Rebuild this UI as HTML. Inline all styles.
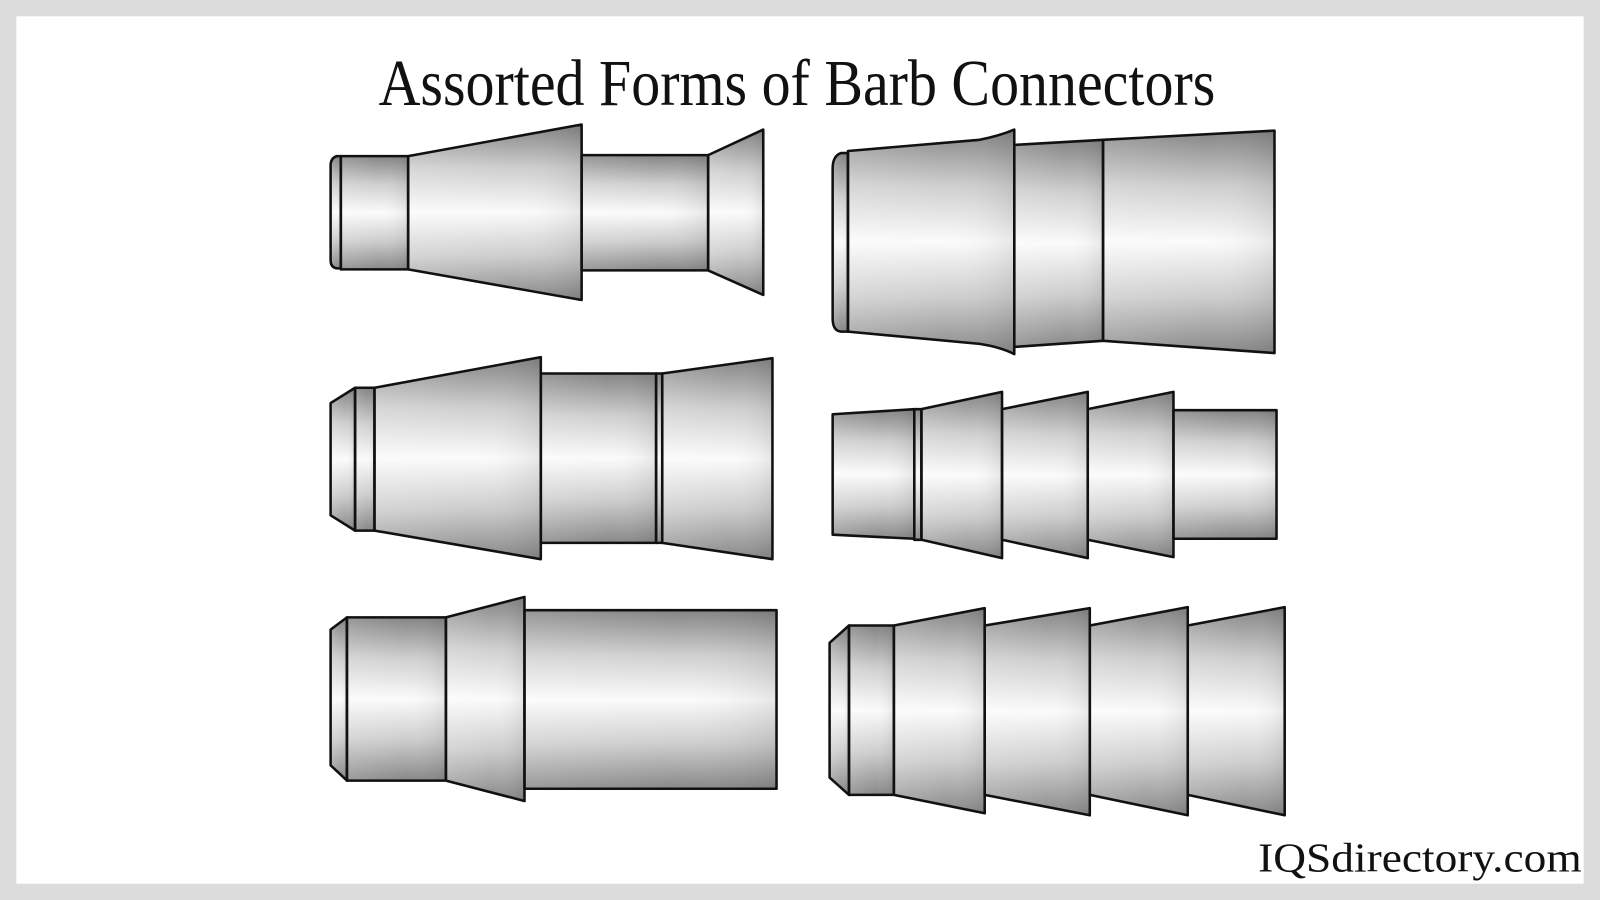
<!DOCTYPE html>
<html><head><style>html,body{margin:0;padding:0;background:#dcdcdc}svg{display:block}</style></head>
<body>
<svg width="1600" height="900" viewBox="0 0 1568 882" xmlns="http://www.w3.org/2000/svg">
<defs>
<linearGradient id="g" x1="0" y1="0" x2="0" y2="1">
<stop offset="0" stop-color="#848484"/><stop offset="0.25" stop-color="#cfcfcf"/><stop offset="0.5" stop-color="#fbfbfb"/><stop offset="0.75" stop-color="#cdcdcd"/><stop offset="1" stop-color="#888888"/>
</linearGradient>
<linearGradient id="h" x1="0" y1="0" x2="1" y2="0">
<stop offset="0" stop-color="#fff" stop-opacity="0.15"/><stop offset="0.6" stop-color="#fff" stop-opacity="0"/><stop offset="1" stop-color="#000" stop-opacity="0.08"/>
</linearGradient>
<g id="shapes">
<path d="M334,153 L330,153 Q324,155 324,162 L324,255 Q324,262 330,263 L334,263 Z"/>
<rect x="334" y="153" width="66" height="111"/>
<polygon points="400,153 570,122 570,294 400,264"/>
<rect x="570" y="152" width="124" height="113"/>
<polygon points="694,152 748,127 748,289 694,265"/>
<path d="M831,150 L824,150 Q816,153 816,165 L816,312 Q816,324 824,325 L831,325 Z"/>
<path d="M831,148 L960,137 Q980,133 994,127 L994,347 Q980,340 960,337 L831,325 Z"/>
<polygon points="994,142 1081,137 1081,334 994,340"/>
<polygon points="1081,137 1249,128 1249,346 1081,334"/>
<polygon points="324,395 348,380 348,520 324,505"/>
<rect x="348" y="380" width="19" height="140"/>
<polygon points="367,380 530,350 530,548 367,520"/>
<rect x="530" y="366" width="113" height="166"/>
<rect x="643" y="366" width="6" height="166"/>
<polygon points="649,366 757,351 757,548 649,532"/>
<polygon points="816,406 896,401 896,528 816,524"/>
<rect x="896" y="401" width="7" height="128"/>
<polygon points="903,401 982,384 982,547 903,529"/>
<polygon points="982,401 1066,384 1066,547 982,529"/>
<polygon points="1066,401 1150,384 1150,546 1066,529"/>
<rect x="1150" y="402" width="101" height="126"/>
<polygon points="324,617 340,605 340,765 324,750"/>
<rect x="340" y="605" width="97" height="160"/>
<polygon points="437,605 514,585 514,785 437,765"/>
<rect x="514" y="598" width="247" height="175"/>
<polygon points="813,630 832,613 832,779 813,762"/>
<rect x="832" y="613" width="44" height="166"/>
<polygon points="876,613 965,596 965,797 876,779"/>
<polygon points="965,613 1068,596 1068,799 965,779"/>
<polygon points="1068,613 1164,595 1164,799 1068,779"/>
<polygon points="1164,613 1259,595 1259,799 1164,779"/>
</g>
</defs>
<rect x="0" y="0" width="1568" height="882" fill="#dcdcdc"/>
<rect x="16" y="16" width="1536" height="850" fill="#fff"/>
<text x="371" y="103" font-family="Liberation Serif, serif" font-size="64" textLength="820" lengthAdjust="spacingAndGlyphs" fill="#111">Assorted Forms of Barb Connectors</text>
<text x="1233" y="854" font-family="Liberation Serif, serif" font-size="40" textLength="317" lengthAdjust="spacingAndGlyphs" fill="#111">IQSdirectory.com</text>
<use href="#shapes" fill="url(#g)"/>
<use href="#shapes" fill="url(#h)" stroke="#111" stroke-width="2.5" stroke-linejoin="round"/>
</svg>
</body></html>
